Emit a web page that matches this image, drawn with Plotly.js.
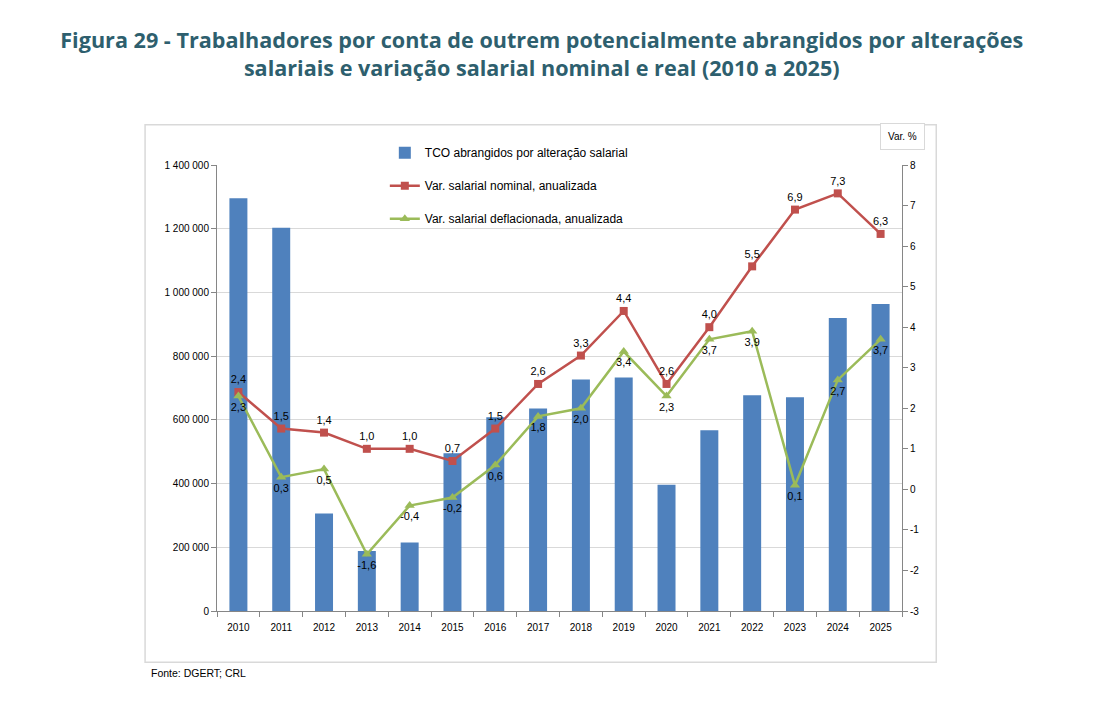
<!DOCTYPE html>
<html>
<head>
<meta charset="utf-8">
<script src="https://cdn.plot.ly/plotly-3.0.1.min.js"></script>
<style>
  body { margin: 0; background: #ffffff; }
  #chart { width: 1117px; height: 712px; }
</style>
</head>
<body>
<div id="chart"></div>
<script>
// Figura 29 - TCO abrangidos e variacao salarial

var anos = ['2010', '2011', '2012', '2013', '2014', '2015', '2016', '2017',
  '2018', '2019', '2020', '2021', '2022', '2023', '2024', '2025'];

// TCO abrangidos por alteracao salarial (barras, eixo esquerdo)
var tco = [1296000, 1203000, 306000, 188000, 215000, 495000, 608000, 636000,
  727000, 733000, 396000, 567000, 677000, 671000, 920000, 964000];

// Var. salarial nominal, anualizada (%)
var nominal = [2.4, 1.5, 1.4, 1.0, 1.0, 0.7, 1.5, 2.6, 3.3, 4.4, 2.6, 4.0, 5.5, 6.9, 7.3, 6.3];

// Var. salarial deflacionada, anualizada (%)
var real = [2.3, 0.3, 0.5, -1.6, -0.4, -0.2, 0.6, 1.8, 2.0, 3.4, 2.3, 3.7, 3.9, 0.1, 2.7, 3.7];

// eixo direito (Var. %)
var ticksPct = [-3, -2, -1, 0, 1, 2, 3, 4, 5, 6, 7, 8];
var ticksPctTexto = ['-3', '-2', '-1', '0', '1', '2', '3', '4', '5', '6', '7', '8'];

var fonte = 'Liberation Sans';

var barras = {
  x: anos,
  y: tco,
  type: 'bar',
  name: 'TCO abrangidos por alteração salarial',
  legendgroup: 'a',
  width: 0.42,
  marker: { color: '#4F81BD' },
  hoverinfo: 'none'
};

var linhaNominal = {
  x: anos,
  y: nominal,
  yaxis: 'y2',
  type: 'scatter',
  mode: 'lines+markers+text',
  name: 'Var. salarial nominal, anualizada',
  legendgroup: 'b',
  line: { color: '#C0504D', width: 2.5 },
  marker: { symbol: 'square', size: 8, color: '#C0504D' },
  texttemplate: '%{y:.1f}',
  textposition: 'top center',
  textfont: { size: 11, color: '#000000', family: fonte },
  hoverinfo: 'none'
};

var linhaReal = {
  x: anos,
  y: real,
  yaxis: 'y2',
  type: 'scatter',
  mode: 'lines+markers+text',
  name: 'Var. salarial deflacionada, anualizada',
  legendgroup: 'c',
  line: { color: '#9BBB59', width: 2.5 },
  marker: { symbol: 'triangle-up', size: 9, color: '#9BBB59' },
  texttemplate: '%{y:.1f}',
  textposition: 'bottom center',
  textfont: { size: 11, color: '#000000', family: fonte },
  hoverinfo: 'none'
};

var data = [barras, linhaNominal, linhaReal];

var layout = {
  width: 1117,
  height: 712,
  separators: ', ',
  paper_bgcolor: '#ffffff',
  plot_bgcolor: '#ffffff',
  font: { family: fonte, size: 10, color: '#000000' },
  showlegend: true,
  legend: {
    x: 0.245,
    y: 1.06,
    xanchor: 'left',
    yanchor: 'top',
    bgcolor: 'rgba(0,0,0,0)',
    font: { size: 12, family: fonte },
    traceorder: 'grouped',
    tracegroupgap: 14
  },
  title: {
    text: 'Figura 29 - Trabalhadores por conta de outrem potencialmente abrangidos por alterações<br>salariais e variação salarial nominal e real (2010 a 2025)',
    font: { family: 'Open Sans', size: 21.6, color: '#2E5F6E', weight: 'bold' },
    x: 0.485,
    xanchor: 'center',
    yref: 'container',
    y: 0.932,
    yanchor: 'top'
  },
  margin: { l: 217, r: 215, t: 165, b: 101 },
  bargap: 0.5,
  xaxis: {
    type: 'category',
    range: [-0.5, 15.5],
    showline: true,
    linecolor: '#868686',
    ticks: 'outside',
    tickson: 'boundaries',
    ticklen: 5,
    tickcolor: '#868686',
    ticklabelstandoff: 7,
    showgrid: false,
    tickfont: { size: 10 }
  },
  yaxis: {
    range: [0, 1400000],
    dtick: 200000,
    tickformat: ',d',
    showline: true,
    linecolor: '#868686',
    ticks: 'outside',
    ticklen: 5,
    tickcolor: '#868686',
    showgrid: true,
    gridcolor: '#D9D9D9',
    gridwidth: 1,
    zeroline: false,
    tickfont: { size: 10 }
  },
  yaxis2: {
    overlaying: 'y',
    side: 'right',
    range: [-3, 8],
    tickmode: 'array',
    tickvals: ticksPct,
    ticktext: ticksPctTexto,
    showline: true,
    linecolor: '#868686',
    ticks: 'outside',
    ticklen: 5,
    tickcolor: '#868686',
    showgrid: false,
    zeroline: false,
    tickfont: { size: 10 }
  },
  shapes: [
    {
      type: 'rect', xref: 'paper', yref: 'paper',
      x0: -0.105, x1: 1.05, y0: -0.115, y1: 1.09,
      line: { color: '#D9D9D9', width: 1.5 },
      fillcolor: 'rgba(0,0,0,0)'
    }
  ],
  annotations: [
    {
      text: 'Var. %',
      xref: 'paper', yref: 'paper',
      x: 0.968, y: 1.065, xanchor: 'left', yanchor: 'middle',
      showarrow: false,
      font: { size: 10 },
      bordercolor: '#D9D9D9', borderwidth: 1, borderpad: 7,
      bgcolor: '#ffffff'
    },
    {
      text: 'Fonte: DGERT; CRL',
      xref: 'paper', yref: 'paper',
      x: -0.1, y: -0.12, xanchor: 'left', yanchor: 'top',
      showarrow: false,
      font: { size: 10.5 }
    }
  ]
};

Plotly.newPlot('chart', data, layout, { displayModeBar: false });
</script>
</body>
</html>
